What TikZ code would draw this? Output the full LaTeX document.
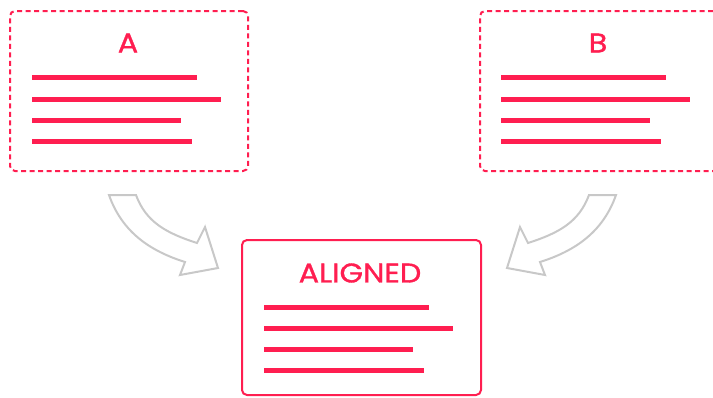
\documentclass[tikz,border=0pt]{standalone}
\usepackage{fontspec}
\setmainfont{Poppins}
\newfontfamily\titlefont{Poppins}[FakeBold=1.2,FakeStretch=1.12]
\definecolor{crim}{RGB}{255,30,80}
\definecolor{arrgray}{RGB}{200,200,200}
\begin{document}
\begin{tikzpicture}[x=1pt,y=-1pt,
  panel/.style={draw=crim, line width=2pt, rounded corners=5pt, minimum width=238pt, minimum height=160pt, inner sep=0pt},
  dashpanel/.style={panel, dash pattern=on 5pt off 3.5pt},
  title/.style={text=crim, font=\titlefont\fontsize{27}{27}\selectfont, inner sep=0pt, anchor=center},
  textline/.style={draw=crim, line width=5pt},
  blockarrow/.style={draw=arrgray, fill=white, line width=2pt, line join=miter}]
\useasboundingbox (0,0) rectangle (713,397);
\clip (0,0) rectangle (713,397);
% panels
\node[dashpanel] (boxA) at (129,91) {};
\node[dashpanel] (boxB) at (599,91) {};
\node[panel, minimum width=239pt, minimum height=155pt] (boxC) at (361.5,317.5) {};
% titles
\node[title] (tA) at (128,43) {A};
\node[title] (tB) at (598,43) {B};
\node[title] (tC) at (360,273) {ALIGNED};
% text lines in A
\draw[textline] (32,77) -- (197,77);
\draw[textline] (32,99) -- (221,99);
\draw[textline] (32,120) -- (181,120);
\draw[textline] (32,141) -- (192,141);
% text lines in B
\draw[textline] (501,77) -- (666,77);
\draw[textline] (501,99) -- (690,99);
\draw[textline] (501,120) -- (650,120);
\draw[textline] (501,141) -- (661,141);
% text lines in ALIGNED
\draw[textline] (264,307) -- (429,307);
\draw[textline] (264,328) -- (453,328);
\draw[textline] (264,349) -- (413,349);
\draw[textline] (264,370) -- (424,370);
% block arrows
\draw[blockarrow] (109,195) -- (136,195)
  .. controls (146,222) and (166,233) .. (197,243)
  -- (205,227) -- (218,268) -- (180,275) -- (185,262)
  .. controls (150,251) and (122,232) .. cycle;
\draw[blockarrow] (616,195) -- (589,195)
  .. controls (579,222) and (559,233) .. (528,243)
  -- (520,227) -- (507,268) -- (545,275) -- (540,262)
  .. controls (575,251) and (603,232) .. cycle;
\end{tikzpicture}
\end{document}
